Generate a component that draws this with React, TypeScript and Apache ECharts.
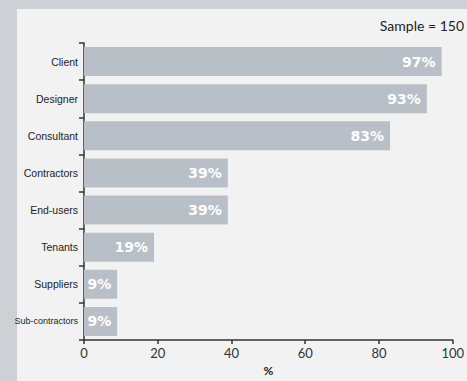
import React, { useEffect, useRef } from "react";
import * as echarts from "echarts";

const categories = [
  "Client",
  "Designer",
  "Consultant",
  "Contractors",
  "End-users",
  "Tenants",
  "Suppliers",
  "Sub-contractors",
];
const values = [97, 93, 83, 39, 39, 19, 9, 9];
const xTicks = [0, 20, 40, 60, 80, 100];
const sampleText = "Sample = 150";
const axisName = "%";

export default function App() {
  const ref = useRef<HTMLDivElement>(null);
  useEffect(() => {
    if (!ref.current) return;
    const chart = echarts.init(ref.current, undefined, { renderer: "svg" });
    const cats = [...categories].reverse();
    const vals = [...values].reverse();
    chart.setOption({
      animation: false,
      backgroundColor: "#cdd0d5",
      graphic: [
        {
          type: "rect",
          shape: { x: 17, y: 9, width: 460, height: 380 },
          style: { fill: "#f2f2f2" },
          z: -10,
          silent: true,
        },
        {
          type: "text",
          right: 3,
          top: 18,
          style: {
            text: sampleText,
            fill: "#222",
            font: "14px Lato, sans-serif",
          },
        },
      ],
      grid: { left: 84, right: 10.5, top: 43, bottom: 40.5, containLabel: false },
      xAxis: {
        type: "value",
        min: xTicks[0],
        max: xTicks[xTicks.length - 1],
        interval: 20,
        name: axisName,
        nameLocation: "middle",
        nameGap: 24,
        nameTextStyle: { color: "#222", fontSize: 12, fontWeight: "bold", fontFamily: "Lato" },
        axisLine: { show: true, lineStyle: { color: "#333", width: 1.5 } },
        axisTick: { show: true, length: 4, lineStyle: { color: "#333", width: 1.5 } },
        axisLabel: { color: "#333", fontSize: 13, fontFamily: "Lato", margin: 6 },
        splitLine: { show: false },
      },
      yAxis: {
        type: "category",
        data: cats,
        axisLine: { show: true, lineStyle: { color: "#333", width: 1.5 } },
        axisTick: { show: true, length: 5, lineStyle: { color: "#333", width: 1.5 } },
        axisLabel: {
          color: "#222",
          fontSize: 10.5,
          fontFamily: "'Liberation Sans Narrow', 'Liberation Sans', sans-serif",
          margin: 6,
          formatter: (v: string) => (v.length > 12 ? `{s|${v}}` : v),
          rich: {
            s: {
              fontSize: 9,
              color: "#222",
              fontFamily: "'Liberation Sans Narrow', 'Liberation Sans', sans-serif",
            },
          },
        },
      },
      series: [
        {
          type: "bar",
          data: vals,
          barCategoryGap: "22%",
          itemStyle: { color: "#b9bfc7" },
          label: {
            show: true,
            position: "insideRight",
            distance: 6,
            formatter: "{c}%",
            color: "#ffffff",
            fontSize: 14,
            fontWeight: "bold",
            fontFamily: "'DejaVu Sans', sans-serif",
          },
        },
      ],
    });
    return () => chart.dispose();
  }, []);
  return (
    <div
      ref={ref}
      style={{ position: "fixed", left: 0, top: 0, width: 467, height: 381 }}
    />
  );
}
